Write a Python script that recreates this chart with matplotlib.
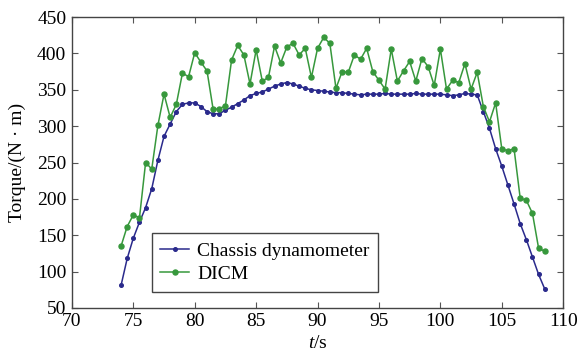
import matplotlib.pyplot as plt

plt.rcParams['font.family'] = ['Liberation Serif', 'DejaVu Serif']
plt.rcParams['mathtext.fontset'] = 'custom'
plt.rcParams['mathtext.it'] = 'Liberation Serif:italic'

# time stamps (s)
t = [74, 74.5, 75, 75.5, 76, 76.5, 77, 77.5, 78, 78.5,
     79, 79.5, 80, 80.5, 81, 81.5, 82, 82.5, 83, 83.5,
     84, 84.5, 85, 85.5, 86, 86.5, 87, 87.5, 88, 88.5,
     89, 89.5, 90, 90.5, 91, 91.5, 92, 92.5, 93, 93.5,
     94, 94.5, 95, 95.5, 96, 96.5, 97, 97.5, 98, 98.5,
     99, 99.5, 100, 100.5, 101, 101.5, 102, 102.5, 103, 103.5,
     104, 104.5, 105, 105.5, 106, 106.5, 107, 107.5, 108, 108.5]

# torque, chassis dynamometer
chassis = [81, 118, 146, 168, 188, 214, 253, 286, 303, 320,
           330, 332, 332, 327, 320, 317, 317, 322, 326, 331,
           336, 342, 345, 347, 351, 355, 358, 360, 358, 355,
           352, 350, 349, 348, 347, 346, 346, 345, 344, 343,
           344, 344, 344, 345, 344, 344, 344, 344, 345, 344,
           344, 344, 344, 343, 342, 343, 345, 344, 343, 320,
           297, 269, 245, 219, 193, 166, 144, 120, 96, 76]

# torque, DICM
dicm = [135, 162, 178, 174, 250, 241, 301, 344, 312, 330,
        373, 368, 401, 388, 376, 323, 324, 328, 391, 411,
        398, 358, 405, 362, 367, 410, 387, 409, 414, 398,
        407, 367, 407, 422, 414, 352, 375, 374, 398, 392,
        407, 375, 363, 351, 406, 362, 376, 389, 362, 393,
        382, 356, 406, 351, 363, 360, 386, 351, 374, 327,
        306, 332, 269, 266, 269, 201, 198, 180, 132, 128]

fig = plt.figure(figsize=(5.8, 3.56), dpi=100)
ax = fig.add_axes([0.124, 0.135, 0.847, 0.817])

ax.plot(t, chassis, color='#2a2a8c', linewidth=1.1, marker='o', markersize=2.6,
        label='Chassis dynamometer')
ax.plot(t, dicm, color='#37983c', linewidth=1.1, marker='o', markersize=3.6,
        label='DICM')

ax.set_xlim(70, 110)
ax.set_ylim(50, 450)
ax.set_xticks(range(70, 111, 5))
ax.set_yticks(range(50, 451, 50))
ax.tick_params(direction='in', top=True, right=True, labelsize=14, length=4,
               color='#555555', pad=4)
for s in ax.spines.values():
    s.set_color('#444444')
    s.set_linewidth(1.0)

ax.set_xlabel('$t$/s', fontsize=14, labelpad=3)
ax.set_ylabel('Torque/(N \u00b7 m)', fontsize=14, labelpad=8)

leg = ax.legend(loc='lower left', bbox_to_anchor=(0.162, 0.055), fontsize=14,
                fancybox=False, framealpha=1, edgecolor='#444444',
                handlelength=1.5, handletextpad=0.4, borderpad=0.45,
                labelspacing=0.3, borderaxespad=0)
leg.get_frame().set_linewidth(1.0)

fig.savefig('out.png', dpi=100)
